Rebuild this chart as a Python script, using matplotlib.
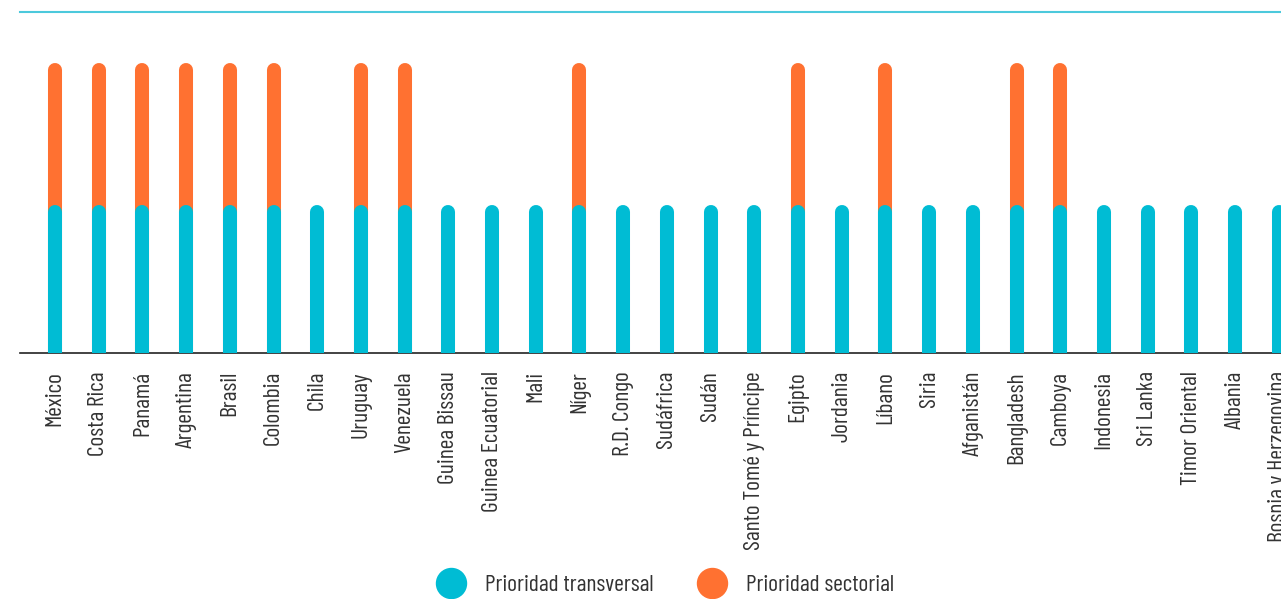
import matplotlib
matplotlib.use("Agg")
import matplotlib.pyplot as plt
from matplotlib.lines import Line2D
import numpy as np

# data
paises = ["México", "Costa Rica", "Panamá", "Argentina", "Brasil", "Colombia", "Chila",
          "Uruguay", "Venezuela", "Guinea Bissau", "Guinea Ecuatorial", "Mali", "Níger",
          "R.D. Congo", "Sudáfrica", "Sudán", "Santo Tomé y Príncipe", "Egipto", "Jordania",
          "Líbano", "Siria", "Afganistán", "Bangladesh", "Camboya", "Indonesia", "Sri Lanka",
          "Timor Oriental", "Albania", "Bosnia y Herzegovina"]
transversal = [1, 1, 1, 1, 1, 1, 1, 1, 1, 1, 1, 1, 1, 1, 1, 1, 1, 1, 1, 1, 1, 1, 1, 1, 1, 1, 1, 1, 1]
sectorial = [1, 1, 1, 1, 1, 1, 0, 1, 1, 0, 0, 0, 1, 0, 0, 0, 0, 1, 0, 1, 0, 0, 1, 1, 0, 0, 0, 0, 0]

cyan = "#00BCD4"
orange = "#FF7131"

plt.rcParams['font.family'] = ['Barlow Condensed', 'DejaVu Sans']

fig = plt.figure(figsize=(12.81, 5.99), dpi=100)
ax = fig.add_axes([20/1281, 1-353/599, 1261/1281, 341/599])

x = np.arange(len(paises))
trans = np.array(transversal)
total = trans + np.array(sectorial)

has_sec = total > trans
ax.vlines(x[has_sec], 0, total[has_sec], color=orange, linewidth=10.1, capstyle='round', zorder=2)
ax.vlines(x, 0, trans, color=cyan, linewidth=10.1, capstyle='round', zorder=3)

ax.set_xlim(-0.8, 28.05)
ax.set_ylim(0, 2.41)
ax.set_yticks([])
ax.set_xticks(x)
ax.set_xticklabels(paises, rotation=90, fontsize=17, color="#333333")
ax.tick_params(axis='x', length=0, pad=13)

for s in ['left', 'right']:
    ax.spines[s].set_visible(False)
ax.spines['top'].set_color("#4CC9DC")
ax.spines['top'].set_linewidth(1.5)
ax.spines['bottom'].set_color("#222222")
ax.spines['bottom'].set_linewidth(1.2)

handles = [Line2D([], [], marker='o', linestyle='', markersize=21.6, color=cyan, label="Prioridad transversal"),
           Line2D([], [], marker='o', linestyle='', markersize=21.6, color=orange, label="Prioridad sectorial")]
fig.legend(handles=handles, loc='center', bbox_to_anchor=(665/1281, 1-585/599), ncol=2, frameon=False,
           fontsize=17, handlelength=1.3, handletextpad=0.8, columnspacing=1.8, labelcolor="#333333")

fig.savefig("out.png", dpi=100)
